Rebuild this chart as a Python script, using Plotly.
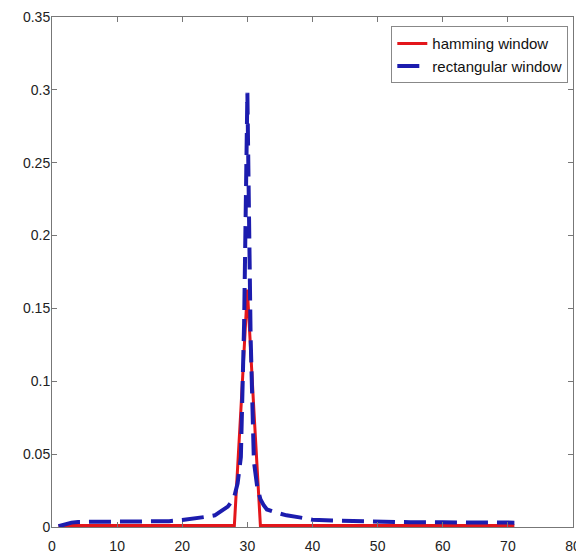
import plotly.graph_objects as go

# Hamming window spectrum (red, solid)
ham_x = [1, 10, 20, 27, 28, 29, 30, 31, 32, 33, 40, 50, 60, 71]
ham_y = [0.001, 0.001, 0.001, 0.001, 0.001, 0.08, 0.163, 0.08, 0.001, 0.001, 0.001, 0.001, 0.001, 0.001]

# Rectangular window spectrum (blue, dashed)
rect_x = [1, 2, 3, 4, 6, 8, 10, 12, 14, 16, 18, 20, 22, 24, 25, 26, 27, 27.5, 28, 28.5,
          29, 29.5, 30, 30.5, 31, 31.5, 32, 32.5, 33, 34, 35, 36, 38, 40, 43, 46, 50,
          55, 60, 65, 70, 71]
rect_y = [0.0005, 0.0018, 0.003, 0.0035, 0.0035, 0.0035, 0.0035, 0.0035, 0.0036, 0.0037,
          0.004, 0.0048, 0.0058, 0.0072, 0.008, 0.011, 0.014, 0.017, 0.021, 0.03,
          0.048, 0.14, 0.298, 0.13, 0.045, 0.028, 0.019, 0.015, 0.012, 0.0105, 0.009,
          0.008, 0.0066, 0.005, 0.0044, 0.004, 0.0036, 0.0033, 0.0032, 0.0031, 0.003, 0.003]

x_ticks = [0, 10, 20, 30, 40, 50, 60, 70, 80]
y_ticks = [0, 0.05, 0.1, 0.15, 0.2, 0.25, 0.3, 0.35]
y_tick_labels = ["0", "0.05", "0.1", "0.15", "0.2", "0.25", "0.3", "0.35"]

fig = go.Figure()
fig.add_trace(go.Scatter(x=ham_x, y=ham_y, mode="lines", name="hamming window",
                         line=dict(color="#e3161b", width=3)))
fig.add_trace(go.Scatter(x=rect_x, y=rect_y, mode="lines", name="rectangular window",
                         line=dict(color="#1c1cae", width=4, dash="22px,9px")))

axis_common = dict(showgrid=False, zeroline=False, showline=True, mirror="ticks",
                   linecolor="#777777", linewidth=1, ticks="inside", ticklen=5,
                   automargin=False,
                   tickcolor="#777777", tickfont=dict(family="Liberation Sans, Arial, sans-serif",
                                                     size=14, color="#222222"))
fig.update_xaxes(range=[0, 80], tickvals=x_ticks, ticklabelstandoff=6, **axis_common)
fig.update_yaxes(range=[0, 0.35], tickvals=y_ticks, ticktext=y_tick_labels,
                 ticklabelstandoff=-2, **axis_common)

fig.update_layout(
    width=576, height=549,
    margin=dict(l=44, r=11, t=9, b=30),
    paper_bgcolor="white", plot_bgcolor="white",
    showlegend=True,
    legend=dict(x=0.991, xanchor="right", y=0.982, yanchor="top",
                bgcolor="white", bordercolor="#888888", borderwidth=1,
                font=dict(family="Liberation Sans, Arial, sans-serif", size=15, color="#111111"),
                itemwidth=30, tracegroupgap=0),
)

fig.write_html("out.html")
